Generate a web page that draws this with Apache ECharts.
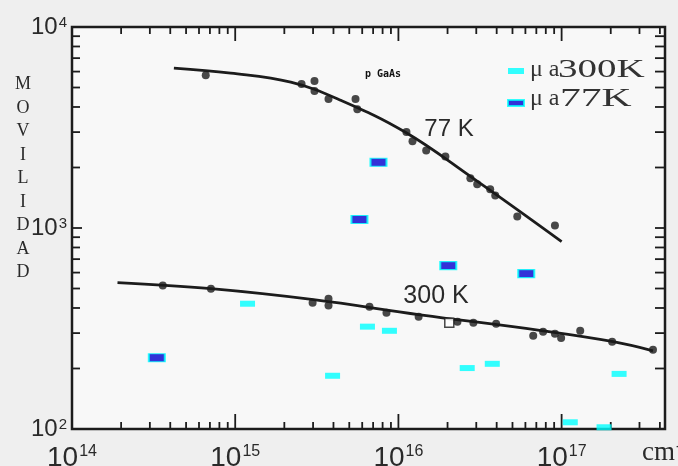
<!DOCTYPE html>
<html>
<head>
<meta charset="utf-8">
<script src="https://cdn.jsdelivr.net/npm/echarts@6/dist/echarts.min.js"></script>
<style>
  html, body { margin: 0; padding: 0; background: #efefef; }
  #chart { width: 678px; height: 466px; }
</style>
</head>
<body>
<div id="chart"></div>
<script>
// Hole mobility of p-type GaAs vs. hole concentration (cm^-3), at 77 K and 300 K

// Fitted curves
const curve77K = [[4.21e14, 6250], [9.39e14, 5896], [2.19e15, 5318], [4.42e15, 4324],
  [1.104e16, 2995], [2.76e16, 1807], [1.0e17, 856]];
const curve300K = [[1.9e14, 535], [7.1e14, 499], [3.02e15, 440], [1.36e16, 370],
  [7.7e16, 308], [2.07e17, 272], [3.63e17, 245]];

// Measured points (black dots)
const dots77K = [[6.6e14, 5760], [2.55e15, 5200], [3.06e15, 5380], [3.06e15, 4800], [3.73e15, 4380],
  [5.46e15, 4380], [5.6e15, 3900], [1.12e16, 3000], [1.22e16, 2700], [1.48e16, 2430], [1.94e16, 2270],
  [2.76e16, 1770], [3.04e16, 1650], [3.65e16, 1560], [3.92e16, 1450], [5.35e16, 1140], [9.1e16, 1030]];
const dots300K = [[3.6e14, 517], [7.1e14, 499], [2.98e15, 425], [3.73e15, 445], [3.73e15, 411],
  [6.65e15, 406], [8.45e15, 379], [1.33e16, 362], [2.3e16, 342], [2.88e16, 338], [3.97e16, 334],
  [6.7e16, 291], [7.7e16, 305], [9.1e16, 298], [9.93e16, 284], [1.3e17, 308], [2.04e17, 272], [3.63e17, 248]];
const squarePoint = [[2.05e16, 338]];

// Own samples: mobility at 300 K and at 77 K
const mu300K = [[1.19e15, 420], [3.95e15, 184], [6.46e15, 323], [8.81e15, 308], [2.64e16, 201],
  [3.76e16, 211], [2.25e17, 188], [1.13e17, 108], [1.82e17, 102]];
const mu77K = [[3.31e14, 226], [5.77e15, 1103], [7.55e15, 2122], [2.02e16, 650], [6.07e16, 593]];

// Axis ranges and decade labels
const xRange = [1e14, 4.3e17];
const yRange = [1e2, 1e4];
const xTickLabels = { 14: '14', 15: '15', 16: '16', 17: '17' };
const yTickLabels = { 2: '2', 3: '3', 4: '4' };
const legendNames = ['\u03bc a 300K', '\u03bc a 77K'];
const yTitle = 'MOVILIDAD';

// log-decade tick values (1..9 x 10^k) strictly inside a range
function logTicks(lo, hi) {
  const out = [];
  for (let e = Math.floor(Math.log10(lo)); e <= Math.ceil(Math.log10(hi)); e++) {
    for (let m = 1; m <= 9; m++) {
      const v = m * Math.pow(10, e);
      if (v > lo * 1.0001 && v < hi * 0.9999) out.push(v);
    }
  }
  return out;
}
const xTicks = logTicks(xRange[0], xRange[1]);
const yTicks = logTicks(yRange[0], yRange[1]);

function decadeLabel(map, v) {
  const e = Math.log10(v);
  const r = Math.round(e);
  if (Math.abs(e - r) > 1e-6 || !(r in map)) return '';
  return '{b|10}{s|' + map[r] + '}';
}
function isDecade(v) {
  const e = Math.log10(v);
  return Math.abs(e - Math.round(e)) < 1e-6;
}

const ink = '#1c1c1c';
const textInk = '#2a2a2a';

// legend caption: "μ a" plus a widened temperature part
function legendCaption(y, head, tail, tailX, stretch) {
  return [
    { type: 'text', x: 530, y: y, z: 10,
      style: { text: head, font: '24px "Liberation Serif"', fill: '#333', textVerticalAlign: 'middle' } },
    { type: 'text', x: tailX, y: y, scaleX: stretch, z: 10,
      style: { text: tail, font: '26px "Liberation Serif"', fill: '#333', textVerticalAlign: 'middle' } }
  ];
}

const chart = echarts.init(document.getElementById('chart'), null, { renderer: 'canvas' });

chart.setOption({
  backgroundColor: '#efefef',
  animation: false,
  grid: {
    left: 72, right: 13, top: 27, bottom: 37,
    outerBoundsMode: 'none', containLabel: false,
    show: true, backgroundColor: '#f8f8f8', borderColor: ink, borderWidth: 2.5
  },
  xAxis: {
    type: 'log', logBase: 10, min: xRange[0], max: xRange[1],
    axisLine: { show: false }, axisTick: { show: false }, splitLine: { show: false },
    axisLabel: {
      margin: 15, color: textInk, showMinLabel: true, showMaxLabel: true,
      formatter: v => decadeLabel(xTickLabels, v),
      rich: {
        b: { fontFamily: 'Liberation Sans', fontSize: 28, color: textInk },
        s: { fontFamily: 'Liberation Sans', fontSize: 16, color: textInk, verticalAlign: 'top', padding: [0, 0, 0, 1] }
      }
    }
  },
  yAxis: {
    type: 'log', logBase: 10, min: yRange[0], max: yRange[1],
    axisLine: { show: false }, axisTick: { show: false }, splitLine: { show: false },
    axisLabel: {
      margin: 5, color: textInk, showMinLabel: true, showMaxLabel: true,
      formatter: v => decadeLabel(yTickLabels, v),
      rich: {
        b: { fontFamily: 'Liberation Sans', fontSize: 24, color: textInk },
        s: { fontFamily: 'Liberation Sans', fontSize: 15, color: textInk, verticalAlign: 'top', padding: [0, 0, 0, 1] }
      }
    }
  },
  legend: {
    data: legendNames,
    orient: 'vertical', left: 502, top: 63,
    icon: 'rect', itemWidth: 16, itemHeight: 6, itemGap: 25,
    formatter: () => '',
    textStyle: { fontSize: 6, lineHeight: 6, padding: 0 },
    selectedMode: false
  },
  graphic: [
    { type: 'text', x: 23, y: 73, z: 10,
      style: { text: yTitle.split('').join('\n'), font: '18px "Liberation Serif"', fill: textInk,
        textAlign: 'center', lineHeight: 23.5 } },
    { type: 'text', x: 449, y: 129, z: 10,
      style: { text: '77 K', font: '24px "Liberation Sans"', fill: textInk, textAlign: 'center', textVerticalAlign: 'middle' } },
    { type: 'text', x: 436, y: 296, z: 10,
      style: { text: '300 K', font: '25px "Liberation Sans"', fill: textInk, textAlign: 'center', textVerticalAlign: 'middle' } },
    { type: 'text', x: 365, y: 74, z: 10,
      style: { text: 'p GaAs', font: 'bold 10px "DejaVu Sans Mono"', fill: '#111', textVerticalAlign: 'middle' } },
    { type: 'text', x: 642, y: 439, z: 10,
      style: { text: '{a|cm}{b|-3}', fill: textInk,
        rich: { a: { fontFamily: 'Liberation Serif', fontSize: 27, fill: textInk },
                b: { fontFamily: 'Liberation Serif', fontSize: 16, fill: textInk, verticalAlign: 'top', padding: [0, 0, 0, 1] } } } },
    ...legendCaption(70, '\u03bc a', '300K', 558, 1.5),
    ...legendCaption(99, '\u03bc a', '77K', 560, 1.6)
  ],
  series: [
    {
      // x-axis ticks (bottom and top edges)
      type: 'custom', silent: true, clip: false, z: 5,
      data: xTicks.map(v => [v, yRange[0]]),
      renderItem: (params, api) => {
        const cs = params.coordSys;
        const x = api.coord([api.value(0), yRange[0]])[0];
        const big = isDecade(api.value(0));
        const lb = big ? 15 : 7, lt = big ? 14 : 7;
        const st = { stroke: ink, lineWidth: 1.8 };
        return { type: 'group', children: [
          { type: 'line', shape: { x1: x, y1: cs.y + cs.height, x2: x, y2: cs.y + cs.height - lb }, style: st },
          { type: 'line', shape: { x1: x, y1: cs.y, x2: x, y2: cs.y + lt }, style: st }
        ] };
      }
    },
    {
      // y-axis ticks (left and right edges)
      type: 'custom', silent: true, clip: false, z: 5,
      data: yTicks.map(v => [xRange[0], v]),
      renderItem: (params, api) => {
        const cs = params.coordSys;
        const y = api.coord([xRange[0], api.value(1)])[1];
        const big = isDecade(api.value(1));
        const st = { stroke: ink, lineWidth: 1.8 };
        return { type: 'group', children: [
          { type: 'line', shape: { x1: cs.x, y1: y, x2: cs.x + (big ? 10 : 8), y2: y }, style: st },
          { type: 'line', shape: { x1: cs.x + cs.width, y1: y, x2: cs.x + cs.width - 10, y2: y }, style: st }
        ] };
      }
    },
    {
      name: '77K fit', type: 'line', data: curve77K, smooth: 0.4, showSymbol: false, silent: true,
      lineStyle: { color: ink, width: 2.8 }, z: 3
    },
    {
      name: '300K fit', type: 'line', data: curve300K, smooth: 0.4, showSymbol: false, silent: true,
      lineStyle: { color: ink, width: 2.8 }, z: 3
    },
    {
      name: '77K data', type: 'scatter', data: dots77K, symbol: 'circle', symbolSize: 8,
      itemStyle: { color: '#1a1a1a' }, z: 4, silent: true
    },
    {
      name: '300K data', type: 'scatter', data: dots300K, symbol: 'circle', symbolSize: 8,
      itemStyle: { color: '#1a1a1a' }, z: 4, silent: true
    },
    {
      name: 'open point', type: 'scatter', data: squarePoint, symbol: 'rect', symbolSize: 9,
      itemStyle: { color: '#ffffff', borderColor: '#1a1a1a', borderWidth: 1.5 }, z: 4, silent: true
    },
    {
      name: legendNames[0], type: 'scatter', data: mu300K, symbol: 'rect', symbolSize: [15, 6],
      itemStyle: { color: '#00ffff' }, z: 6, silent: true
    },
    {
      name: legendNames[1], type: 'scatter', data: mu77K, symbol: 'rect', symbolSize: [16, 8],
      itemStyle: { color: '#0000d0', borderColor: '#00ffff', borderWidth: 1.5 }, z: 6, silent: true
    }
  ]
});
</script>
</body>
</html>
